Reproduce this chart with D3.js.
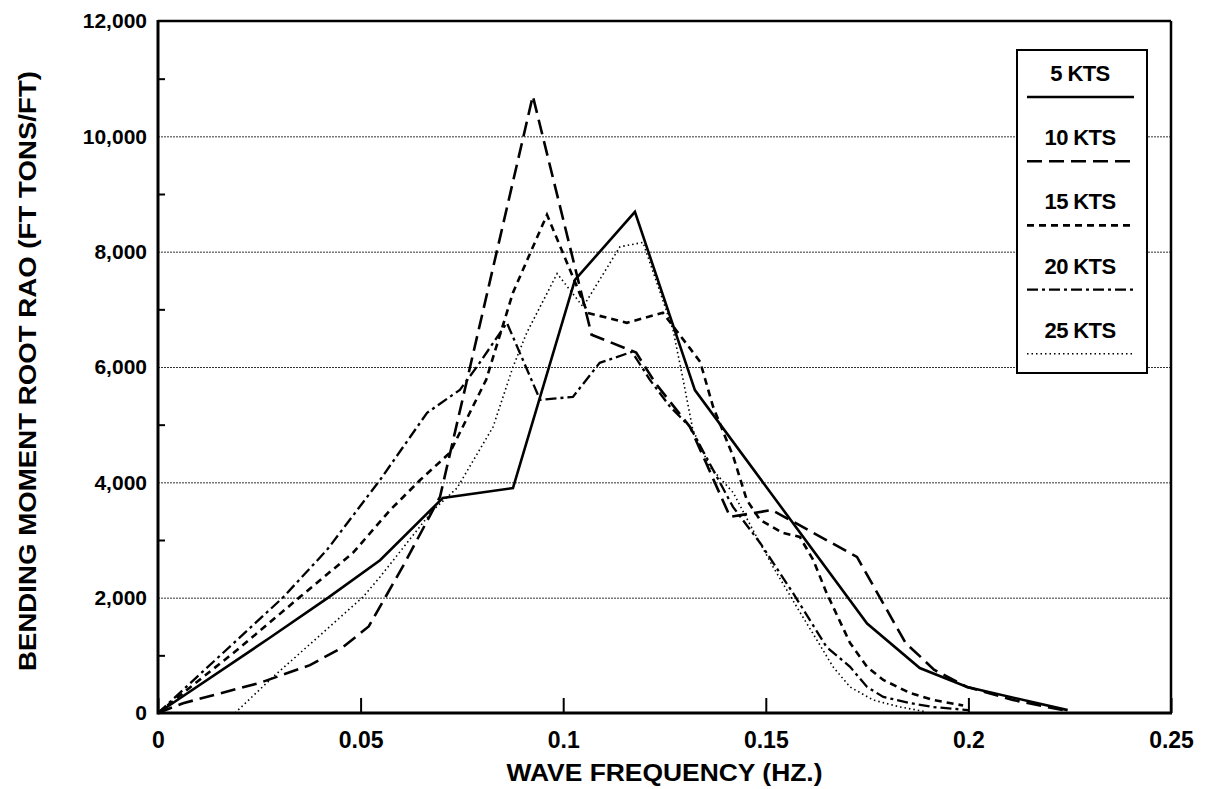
<!DOCTYPE html>
<html>
<head>
<meta charset="utf-8">
<script src="https://cdn.jsdelivr.net/npm/d3@7"></script>
<style>
  html, body { margin: 0; padding: 0; background: #fff; }
  svg { display: block; }
  text { font-family: "Liberation Sans", Arial, sans-serif; font-weight: bold; fill: #000; }
</style>
</head>
<body>
<svg id="chart" width="1206" height="789"></svg>
<script>
// ---- data ----
const seriesNames = ["5 KTS", "10 KTS", "15 KTS", "20 KTS", "25 KTS"];
const xTickValues = [0, 0.05, 0.1, 0.15, 0.2, 0.25];
const xTickLabels = ["0", "0.05", "0.1", "0.15", "0.2", "0.25"];
const yTickValues = [0, 2000, 4000, 6000, 8000, 10000, 12000];
const yMinorTicks = [1000, 3000, 5000, 7000, 9000, 11000];

// [frequency (Hz), bending moment root RAO]
const kts5 = [[0,0],[0.0275,1300],[0.042,2000],[0.0548,2650],[0.0703,3730],[0.0876,3900],[0.1029,7510],[0.1177,8690],[0.1325,5600],[0.175,1550],[0.188,780],[0.1997,450],[0.2245,50]];
const kts10 = [[0,0],[0.0062,170],[0.025,520],[0.0375,830],[0.0457,1145],[0.052,1500],[0.0605,2550],[0.0696,3750],[0.0925,10700],[0.107,6560],[0.118,6250],[0.1227,5725],[0.1313,4960],[0.1412,3400],[0.1515,3520],[0.1725,2706],[0.1845,1214],[0.189,920],[0.1915,750],[0.1997,450],[0.211,225],[0.224,40]];
const kts15 = [[0,0],[0.02,1120],[0.035,2010],[0.0481,2776],[0.0573,3520],[0.0647,4040],[0.072,4510],[0.081,5780],[0.0876,7290],[0.096,8640],[0.103,7460],[0.106,6940],[0.1157,6766],[0.1246,6940],[0.1338,6090],[0.137,5309],[0.142,4440],[0.1453,3695],[0.1486,3348],[0.1542,3123],[0.1584,3053],[0.1617,2654],[0.165,2082],[0.1708,1214],[0.175,800],[0.179,573],[0.1856,347],[0.1913,226],[0.1987,130]];
const kts20 = [[0,0],[0.0308,2000],[0.0417,2828],[0.0548,4042],[0.0664,5205],[0.0745,5604],[0.0787,6003],[0.0861,6766],[0.0943,5430],[0.1024,5482],[0.109,6072],[0.117,6263],[0.1214,5777],[0.1264,5309],[0.1313,4962],[0.1419,3574],[0.1486,2949],[0.1567,2082],[0.165,1145],[0.1708,800],[0.175,451],[0.179,278],[0.1856,173],[0.1913,104],[0.2,50]];
const kts25 = [[0.019,0],[0.0284,625],[0.0506,2012],[0.0548,2360],[0.0679,3522],[0.0738,3900],[0.0827,4962],[0.0876,6000],[0.091,6593],[0.0985,7620],[0.1049,7044],[0.114,8085],[0.1197,8160],[0.1271,6645],[0.1296,5777],[0.132,4910],[0.1362,4268],[0.142,3817],[0.1468,3175],[0.1518,2533],[0.1584,1750],[0.1626,1266],[0.1666,800],[0.1708,451],[0.1765,225],[0.1831,104],[0.189,30]];

const allSeries = [kts5, kts10, kts15, kts20, kts25];
const dashes = [null, "15,7", "7,5", "11,4,3,4", "1.5,3"];
const widths = [2.6, 2.6, 2.6, 2.3, 1.6];

// ---- layout ----
const L = 158, R = 1171, T = 21, B = 713;
const svg = d3.select("#chart");
const x = d3.scaleLinear().domain([0, 0.25]).range([L, R]);
const y = d3.scaleLinear().domain([0, 12000]).range([B, T]);

// gridlines
svg.append("g")
  .attr("transform", `translate(${L},0)`)
  .call(d3.axisLeft(y).tickValues(yTickValues.filter(v => v > 0 && v < 12000)).tickSize(-(R - L)).tickFormat(""))
  .call(g => g.select(".domain").remove())
  .call(g => g.selectAll("line").attr("stroke", "#333").attr("stroke-width", 1).attr("stroke-dasharray", "2,1"));

// y axis labels
svg.append("g")
  .attr("transform", `translate(${L},0)`)
  .call(d3.axisLeft(y).tickValues(yTickValues).tickSize(0).tickPadding(11).tickFormat(d3.format(",")))
  .call(g => g.select(".domain").remove())
  .call(g => g.selectAll("text").style("font-size", "21px").style("font-family", "'Liberation Sans', Arial, sans-serif").style("font-weight", "bold"));

// y minor ticks (inward)
svg.append("g")
  .attr("transform", `translate(${L},0)`)
  .call(d3.axisLeft(y).tickValues(yMinorTicks).tickSizeInner(-7).tickSizeOuter(0).tickFormat(""))
  .call(g => g.select(".domain").remove())
  .call(g => g.selectAll("line").attr("stroke", "#000").attr("stroke-width", 2));

// x axis (inward ticks)
svg.append("g")
  .attr("transform", `translate(0,${B})`)
  .call(d3.axisBottom(x).tickValues(xTickValues).tickSizeInner(-15).tickSizeOuter(0).tickPadding(19)
    .tickFormat((d, i) => xTickLabels[i]))
  .call(g => g.select(".domain").remove())
  .call(g => g.selectAll("line").attr("stroke", "#000").attr("stroke-width", 2))
  .call(g => g.selectAll("text").style("font-size", "23px").style("font-family", "'Liberation Sans', Arial, sans-serif").style("font-weight", "bold"));

// series lines
const line = d3.line().x(d => x(d[0])).y(d => y(d[1]));
const gLines = svg.append("g");
allSeries.forEach((s, i) => {
  gLines.append("path")
    .datum(s)
    .attr("d", line)
    .attr("fill", "none")
    .attr("stroke", "#000")
    .attr("stroke-width", widths[i])
    .attr("stroke-linejoin", "miter")
    .attr("stroke-dasharray", dashes[i]);
});

// frame
svg.append("line").attr("x1", L).attr("x2", R).attr("y1", T).attr("y2", T).attr("stroke", "#000").attr("stroke-width", 2.5);
svg.append("line").attr("x1", R).attr("x2", R).attr("y1", T).attr("y2", B).attr("stroke", "#000").attr("stroke-width", 2.5);
svg.append("line").attr("x1", L).attr("x2", R + 1).attr("y1", B).attr("y2", B).attr("stroke", "#000").attr("stroke-width", 3);
svg.append("line").attr("x1", L).attr("x2", L).attr("y1", T - 1).attr("y2", B + 1.5).attr("stroke", "#000").attr("stroke-width", 3);

// legend
const lg = svg.append("g");
lg.append("rect").attr("x", 1017).attr("y", 50).attr("width", 130).attr("height", 323)
  .attr("fill", "#fff").attr("stroke", "#000").attr("stroke-width", 2);
seriesNames.forEach((name, i) => {
  const cy = 73 + i * 64.2;
  lg.append("text").attr("x", 1080).attr("y", cy).attr("dy", "0.36em")
    .attr("text-anchor", "middle").style("font-size", "22px").style("letter-spacing", "-0.6px").text(name);
  lg.append("line").attr("x1", 1027).attr("x2", 1134).attr("y1", cy + 24).attr("y2", cy + 24)
    .attr("stroke", "#000").attr("stroke-width", widths[i]).attr("stroke-dasharray", dashes[i]);
});

// axis titles
svg.append("text").attr("x", (L + R) / 2).attr("y", 773).attr("dy", "0.36em")
  .attr("text-anchor", "middle").style("font-size", "23px")
  .attr("textLength", 316).attr("lengthAdjust", "spacingAndGlyphs")
  .text("WAVE FREQUENCY (HZ.)");
svg.append("text").attr("transform", `translate(28,${(T + B) / 2 + 4}) rotate(-90)`).attr("dy", "0.36em")
  .attr("text-anchor", "middle").style("font-size", "23px")
  .attr("textLength", 600).attr("lengthAdjust", "spacingAndGlyphs")
  .text("BENDING MOMENT ROOT RAO (FT TONS/FT)");
</script>
</body>
</html>
